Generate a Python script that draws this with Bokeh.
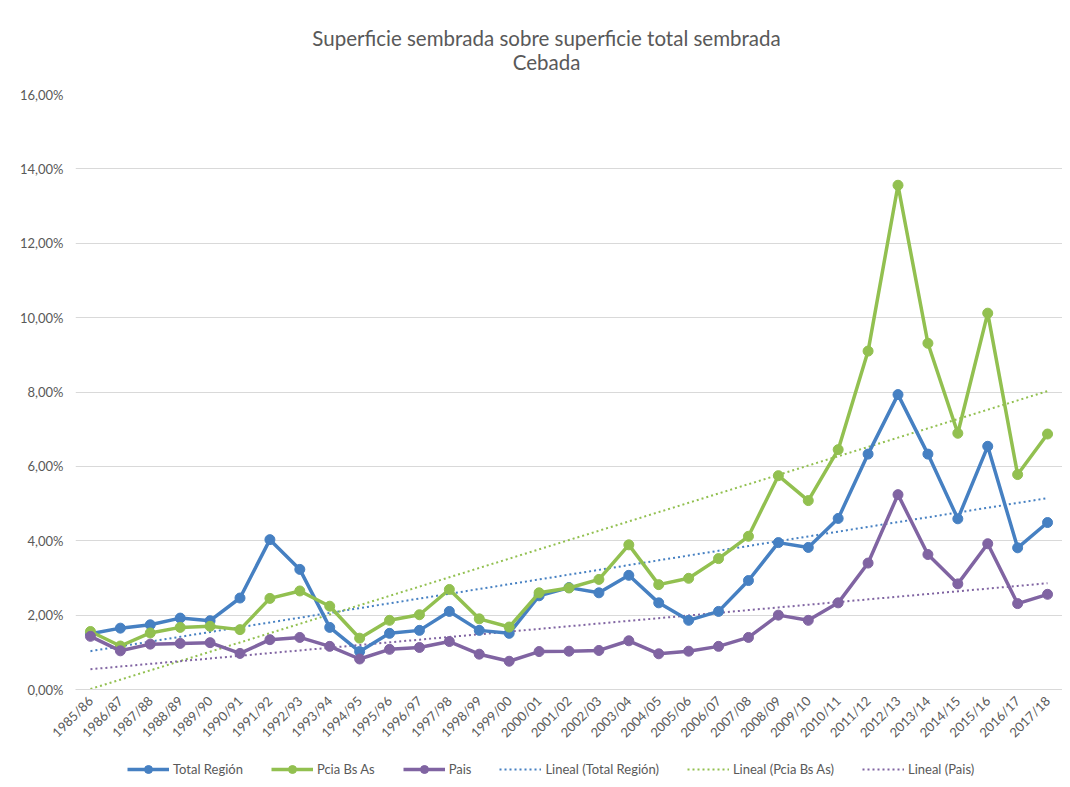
import numpy as np
from bokeh.plotting import figure
from bokeh.layouts import column
from bokeh.models import (FactorRange, Range1d, FixedTicker, CustomJSTickFormatter,
                          Legend, LegendItem)
from bokeh.core.properties import value
from bokeh.embed import file_html
from bokeh.resources import INLINE

seasons = ["1985/86", "1986/87", "1987/88", "1988/89", "1989/90", "1990/91", "1991/92",
           "1992/93", "1993/94", "1994/95", "1995/96", "1996/97", "1997/98", "1998/99",
           "1999/00", "2000/01", "2001/02", "2002/03", "2003/04", "2004/05", "2005/06",
           "2006/07", "2007/08", "2008/09", "2009/10", "2010/11", "2011/12", "2012/13",
           "2013/14", "2014/15", "2015/16", "2016/17", "2017/18"]

total_region = [1.50, 1.65, 1.74, 1.92, 1.85, 2.46, 4.03, 3.23, 1.67, 1.02, 1.51, 1.59, 2.10,
                1.59, 1.51, 2.52, 2.74, 2.60, 3.07, 2.33, 1.86, 2.10, 2.93, 3.95, 3.82, 4.60,
                6.33, 7.93, 6.33, 4.59, 6.54, 3.81, 4.49]
pcia_bs_as = [1.56, 1.17, 1.52, 1.67, 1.70, 1.61, 2.45, 2.65, 2.24, 1.38, 1.86, 2.01, 2.69,
              1.90, 1.68, 2.60, 2.73, 2.96, 3.89, 2.82, 2.99, 3.52, 4.12, 5.75, 5.08, 6.45,
              9.10, 13.56, 9.31, 6.89, 10.12, 5.78, 6.87]
pais = [1.43, 1.04, 1.22, 1.24, 1.26, 0.97, 1.34, 1.40, 1.16, 0.82, 1.08, 1.13, 1.29,
        0.95, 0.76, 1.02, 1.03, 1.05, 1.31, 0.96, 1.03, 1.16, 1.40, 2.00, 1.86, 2.33,
        3.40, 5.24, 3.63, 2.84, 3.92, 2.31, 2.56]

y_ticks = [0, 2, 4, 6, 8, 10, 12, 14, 16]
title_lines = ["Superficie sembrada sobre superficie total sembrada", "Cebada"]

FONT = "Lato"
GRAY = "#595959"
GRID = "#d9d9d9"
W = 1062
LEFT = 75

# ---- title strip (x in page pixels) ----
tt = figure(width=W, height=80, x_range=Range1d(LEFT, W), y_range=Range1d(80, 0),
            output_backend="svg", toolbar_location=None, min_border=0,
            min_border_left=LEFT)
tt.axis.visible = False
tt.grid.visible = False
tt.outline_line_color = None
tt.text(x=[546, 546], y=[37, 61], text=title_lines, text_align="center",
        text_baseline="middle", text_font=value(FONT), text_font_size="20.5px",
        text_color=GRAY)

# ---- main chart ----
p = figure(width=W, height=672,
           x_range=FactorRange(*seasons, range_padding=0),
           y_range=Range1d(0, 16),
           output_backend="svg", toolbar_location=None,
           min_border_left=LEFT, min_border_right=0, min_border_top=14,
           min_border_bottom=63)

p.outline_line_color = None
p.xgrid.grid_line_color = None
p.ygrid.grid_line_color = GRID
p.ygrid.grid_line_width = 1

p.yaxis.ticker = FixedTicker(ticks=y_ticks)
p.yaxis.formatter = CustomJSTickFormatter(code="return tick.toFixed(2).replace('.', ',') + '%';")
p.yaxis.axis_line_color = None
p.yaxis.major_tick_line_color = None
p.yaxis.minor_tick_line_color = None
p.yaxis.major_tick_out = 0
p.yaxis.major_label_text_color = GRAY
p.yaxis.major_label_text_font = FONT
p.yaxis.major_label_text_font_size = "13px"
p.yaxis.major_label_standoff = 12

p.xaxis.axis_line_color = GRID
p.xaxis.major_tick_line_color = None
p.xaxis.minor_tick_line_color = None
p.xaxis.major_tick_out = 0
p.xaxis.major_label_orientation = np.pi / 4
p.xaxis.major_label_text_color = GRAY
p.xaxis.major_label_text_font = FONT
p.xaxis.major_label_text_font_size = "13px"
p.xaxis.major_label_standoff = 9

series = [("Total Región", total_region, "#4680C2"),
          ("Pcia Bs As", pcia_bs_as, "#92C050"),
          ("Pais", pais, "#8064A2")]

idx = np.arange(len(seasons))
for name, vals, color in series:
    coef = np.polyfit(idx, np.array(vals), 1)
    trend = np.polyval(coef, idx)
    p.line(seasons, trend, line_color=color, line_width=2, line_dash="2 3")

for name, vals, color in series:
    p.line(seasons, vals, line_color=color, line_width=3.5)
    p.scatter(seasons, vals, size=10, fill_color=color, line_color=color)

# ---- legend strip ----
lg = figure(width=W, height=31, x_range=Range1d(0, 1), y_range=Range1d(0, 1),
            output_backend="svg", toolbar_location=None, min_border=0,
            min_border_left=LEFT)
lg.axis.visible = False
lg.grid.visible = False
lg.outline_line_color = None
items_main = []
items_trend = []
for name, vals, color in series:
    ln = lg.line([np.nan], [np.nan], line_color=color, line_width=3.5)
    sc = lg.scatter([np.nan], [np.nan], size=10, fill_color=color, line_color=color)
    items_main.append(LegendItem(label=name, renderers=[ln, sc]))
for name, vals, color in series:
    tr = lg.line([np.nan], [np.nan], line_color=color, line_width=2, line_dash="2 3")
    items_trend.append(LegendItem(label=f"Lineal ({name})", renderers=[tr]))

legend = Legend(items=items_main + items_trend, orientation="horizontal", location=(52, 4),
                border_line_color=None, background_fill_alpha=0,
                label_text_font=FONT, label_text_font_size="13px", label_text_color=GRAY,
                glyph_width=42, spacing=28, label_standoff=4, margin=0, padding=4)
lg.add_layout(legend, "center")

layout = column(tt, p, lg, spacing=0)
open("out.html", "w").write(file_html(layout, INLINE))
